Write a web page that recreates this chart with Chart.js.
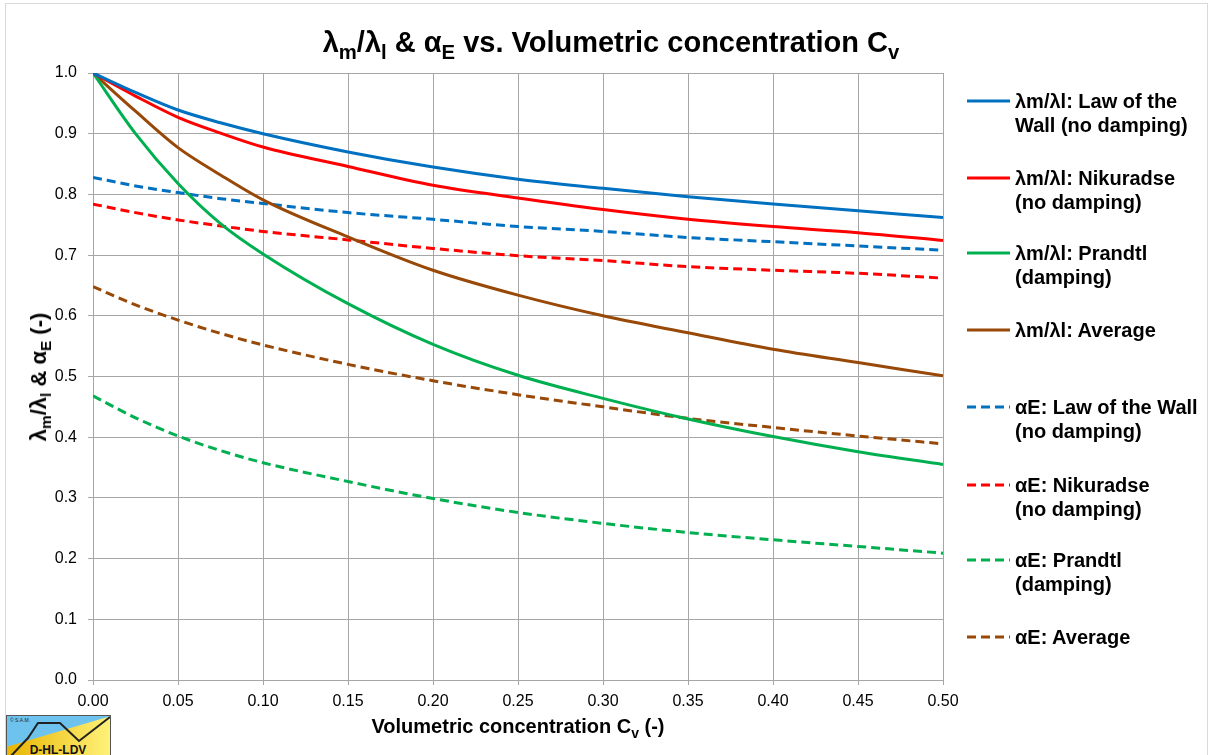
<!DOCTYPE html>
<html>
<head>
<meta charset="utf-8">
<script src="https://cdn.jsdelivr.net/npm/chart.js@4/dist/chart.umd.min.js"></script>
<style>
  html, body { margin: 0; padding: 0; background: #fff; }
  body { width: 1211px; height: 755px; position: relative; overflow: hidden; font-family: "Liberation Sans", Arial, sans-serif; }
  #frame { position: absolute; left: 5px; top: 3px; width: 1203px; height: 760px; border: 1px solid #d9d9d9; box-sizing: border-box; }
  #wrap { position: absolute; left: 0; top: 0; width: 1211px; height: 755px; }
  .title { position: absolute; left: 0; width: 1222px; top: 25px; line-height: 34px; text-align: center; font-weight: bold; font-size: 29px; color: #000; }
  .xtitle { position: absolute; left: 93px; width: 850px; top: 715px; line-height: 23px; text-align: center; font-weight: bold; font-size: 20px; }
  .ytitle { position: absolute; left: 39px; top: 377px; transform: translate(-50%, -50%) rotate(-90deg); white-space: nowrap; font-weight: bold; font-size: 22px; line-height: 24px; }
  sub { font-size: 70%; vertical-align: -0.35em; line-height: 0; }
  .leg { position: absolute; left: 966px; font-weight: bold; font-size: 20px; line-height: 24px; color: #000; }
  .leg svg { position: absolute; left: 0; top: 10px; }
  .leg span { position: absolute; left: 49px; top: 0; white-space: nowrap; }
  #logo { position: absolute; left: 6px; top: 715px; }
</style>
</head>
<body>
<div id="frame"></div>
<div id="wrap"><canvas id="Chart-lambda" width="1211" height="755"></canvas></div>
<div class="title">λ<sub>m</sub>/λ<sub>l</sub> &amp; α<sub>E</sub> vs. Volumetric concentration C<sub>v</sub></div>
<div class="xtitle">Volumetric concentration C<sub>v</sub> (-)</div>
<div class="ytitle">λ<sub>m</sub>/λ<sub>l</sub> &amp; α<sub>E</sub> (-)</div>
<div id="legend"></div>
<svg id="logo" width="106" height="42" viewBox="0 0 106 42">
  <defs>
    <linearGradient id="yel" x1="0" x2="1" y1="0" y2="0">
      <stop offset="0" stop-color="#e8b400"/>
      <stop offset="1" stop-color="#fff27a"/>
    </linearGradient>
  </defs>
  <rect x="0" y="0" width="105" height="42" fill="#6ec3ee"/>
  <polygon points="0,32 105,1 105,42 0,42" fill="url(#yel)"/>
  <polyline points="4,42 22,23 32,8 54,8 73,26 104,2" fill="none" stroke="#222" stroke-width="2"/>
  <rect x="0.5" y="0.5" width="104" height="41" fill="none" stroke="#555" stroke-width="1"/>
  <text x="4" y="7" font-size="5" font-family="Liberation Sans" fill="#222">© S.A.M.</text>
  <text x="52" y="39" font-size="12" font-weight="bold" text-anchor="middle" font-family="Liberation Sans" fill="#111">D-HL-LDV</text>
</svg>

<script>
// volumetric concentration Cv (-)
var cv = [0, 0.025, 0.05, 0.075, 0.10, 0.15, 0.20, 0.25, 0.30, 0.35, 0.40, 0.45, 0.50];

// lambda_m / lambda_l
var lawWall   = [1.000, 0.968, 0.939, 0.918, 0.900, 0.870, 0.845, 0.825, 0.810, 0.796, 0.784, 0.773, 0.762];
var nikuradse = [1.000, 0.962, 0.927, 0.901, 0.878, 0.846, 0.815, 0.794, 0.775, 0.759, 0.747, 0.737, 0.724];
var prandtl   = [1.000, 0.900, 0.818, 0.752, 0.702, 0.620, 0.553, 0.502, 0.464, 0.430, 0.401, 0.376, 0.355];
var average   = [1.000, 0.937, 0.877, 0.832, 0.791, 0.730, 0.675, 0.634, 0.600, 0.572, 0.545, 0.523, 0.501];

// alpha_E
var aLawWall   = [0.828, 0.814, 0.803, 0.793, 0.785, 0.770, 0.759, 0.747, 0.739, 0.729, 0.722, 0.715, 0.708];
var aNikuradse = [0.784, 0.770, 0.758, 0.748, 0.739, 0.725, 0.711, 0.699, 0.691, 0.681, 0.675, 0.670, 0.662];
var aPrandtl   = [0.468, 0.432, 0.402, 0.378, 0.358, 0.327, 0.299, 0.276, 0.258, 0.243, 0.231, 0.220, 0.209];
var aAverage   = [0.648, 0.618, 0.593, 0.571, 0.552, 0.520, 0.493, 0.470, 0.450, 0.431, 0.416, 0.402, 0.389];

var xTicks = [0, 0.05, 0.10, 0.15, 0.20, 0.25, 0.30, 0.35, 0.40, 0.45, 0.50];
var yTicks = [0, 0.1, 0.2, 0.3, 0.4, 0.5, 0.6, 0.7, 0.8, 0.9, 1.0];

var seriesLabels = [
  ['λm/λl: Law of the', 'Wall (no damping)'],
  ['λm/λl: Nikuradse', '(no damping)'],
  ['λm/λl: Prandtl', '(damping)'],
  ['λm/λl: Average'],
  ['αE: Law of the Wall', '(no damping)'],
  ['αE: Nikuradse', '(no damping)'],
  ['αE: Prandtl', '(damping)'],
  ['αE: Average']
];
var seriesData = [lawWall, nikuradse, prandtl, average, aLawWall, aNikuradse, aPrandtl, aAverage];
var colors = ['#0070c0', '#ff0000', '#00b050', '#984807', '#0070c0', '#ff0000', '#00b050', '#984807'];

function toPoints(ys) {
  return cv.map(function (x, i) { return { x: x, y: ys[i] }; });
}

var datasets = seriesData.map(function (ys, i) {
  return {
    label: seriesLabels[i].join(' '),
    data: toPoints(ys),
    borderColor: colors[i],
    backgroundColor: colors[i],
    borderWidth: 3,
    borderDash: i >= 4 ? [9, 5] : [],
    pointRadius: 0,
    fill: false,
    cubicInterpolationMode: 'monotone'
  };
});

Chart.defaults.font.family = '"Liberation Sans", Arial, sans-serif';
Chart.defaults.color = '#000';

var ctx = document.getElementById('Chart-lambda').getContext('2d');
var lambdaChart = new Chart(ctx, {
  type: 'line',
  data: { datasets: datasets },
  options: {
    responsive: false,
    animation: false,
    layout: { padding: { left: 0, right: 268, top: 73, bottom: 35 } },
    plugins: {
      legend: { display: false },
      tooltip: { enabled: false }
    },
    scales: {
      x: {
        type: 'linear',
        position: 'bottom',
        min: 0,
        max: 0.5,
        afterFit: function (s) { s.height = 40; },
        afterBuildTicks: function (s) { s.ticks = xTicks.map(function (v) { return { value: v }; }); },
        ticks: {
          font: { size: 16 },
          padding: 7,
          maxRotation: 0,
          callback: function (v) { return Number(v).toFixed(2); }
        },
        grid: { color: '#a6a6a6', lineWidth: 1, tickLength: 5 },
        border: { color: '#a6a6a6' }
      },
      y: {
        min: 0,
        max: 1,
        afterFit: function (s) { s.width = 93; },
        afterBuildTicks: function (s) { s.ticks = yTicks.map(function (v) { return { value: v }; }); },
        ticks: {
          font: { size: 16 },
          padding: 11,
          callback: function (v) { return Number(v).toFixed(1); }
        },
        grid: { color: '#a6a6a6', lineWidth: 1, tickLength: 5 },
        border: { color: '#a6a6a6' }
      }
    }
  }
});

// legend on the right, built from the same series list
var legendTop = [89, 166, 241, 318, 395, 473, 548, 625];
var legendBox = document.getElementById('legend');
seriesLabels.forEach(function (lines, i) {
  var item = document.createElement('div');
  item.className = 'leg';
  item.style.top = legendTop[i] + 'px';
  var dash = i >= 4 ? ' stroke-dasharray="9 5"' : '';
  item.innerHTML = '<svg width="45" height="4"><line x1="1" y1="2" x2="44" y2="2" stroke="' + colors[i] +
    '" stroke-width="3"' + dash + '/></svg><span>' + lines.join('<br>') + '</span>';
  legendBox.appendChild(item);
});
</script>
</body>
</html>
